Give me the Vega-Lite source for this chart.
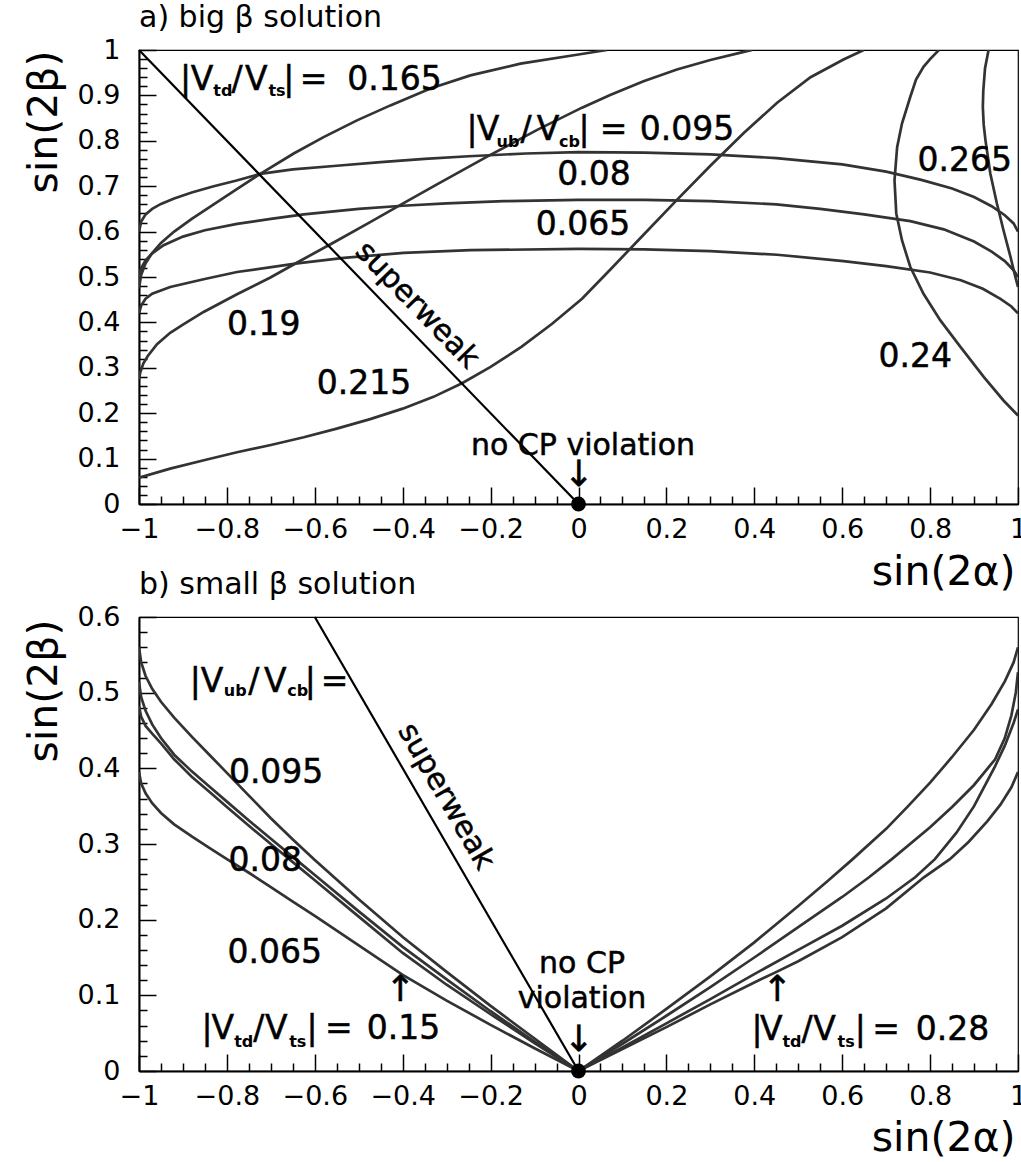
{
  "$schema": "https://vega.github.io/schema/vega-lite/v6.json",
  "padding": {"left": 22, "top": 2, "right": 0, "bottom": 0},
  "bounds": "flush",
  "spacing": 113,
  "config": {
    "view": {"stroke": "#000", "strokeWidth": 1.2},
    "font": "DejaVu Sans",
    "text": {"font": "DejaVu Sans", "color": "#000", "stroke": "#000", "strokeWidth": 0.5},
    "axis": {"grid": false, "domainColor": "#000", "domainWidth": 2, "tickColor": "#000", "tickWidth": 1.5,
      "labelFont": "DejaVu Sans", "labelFontSize": 27, "labelColor": "#000", "titleFont": "DejaVu Sans",
      "titleFontSize": 41, "titleFontWeight": "normal", "titleColor": "#000", "labelFlush": false, "labelOverlap": false},
    "title": {"font": "DejaVu Sans", "fontSize": 30, "fontWeight": "normal", "color": "#000", "anchor": "start", "frame": "group", "offset": 3, "baseline": "alphabetic"}
  },
  "datasets": {
    "a_curves": [
      {"c":"ub095","x":-1,"y":0.600},{"c":"ub095","x":-0.995,"y":0.622},{"c":"ub095","x":-0.985,"y":0.638},{"c":"ub095","x":-0.97,"y":0.650},{"c":"ub095","x":-0.95,"y":0.661},{"c":"ub095","x":-0.92,"y":0.673},{"c":"ub095","x":-0.88,"y":0.686},{"c":"ub095","x":-0.83,"y":0.700},{"c":"ub095","x":-0.78,"y":0.712},{"c":"ub095","x":-0.724,"y":0.727},{"c":"ub095","x":-0.65,"y":0.737},{"c":"ub095","x":-0.55,"y":0.745},{"c":"ub095","x":-0.45,"y":0.753},{"c":"ub095","x":-0.35,"y":0.760},{"c":"ub095","x":-0.25,"y":0.766},{"c":"ub095","x":-0.12,"y":0.772},{"c":"ub095","x":0,"y":0.775},{"c":"ub095","x":0.15,"y":0.774},{"c":"ub095","x":0.3,"y":0.770},{"c":"ub095","x":0.45,"y":0.762},{"c":"ub095","x":0.6,"y":0.748},{"c":"ub095","x":0.7,"y":0.732},{"c":"ub095","x":0.78,"y":0.714},{"c":"ub095","x":0.85,"y":0.695},{"c":"ub095","x":0.9,"y":0.676},{"c":"ub095","x":0.94,"y":0.656},{"c":"ub095","x":0.97,"y":0.636},{"c":"ub095","x":0.99,"y":0.618},{"c":"ub095","x":1,"y":0.600},
      {"c":"ub080","x":-1,"y":0.500},{"c":"ub080","x":-0.995,"y":0.520},{"c":"ub080","x":-0.985,"y":0.537},{"c":"ub080","x":-0.97,"y":0.552},{"c":"ub080","x":-0.944,"y":0.570},{"c":"ub080","x":-0.9,"y":0.589},{"c":"ub080","x":-0.85,"y":0.603},{"c":"ub080","x":-0.777,"y":0.617},{"c":"ub080","x":-0.7,"y":0.628},{"c":"ub080","x":-0.625,"y":0.638},{"c":"ub080","x":-0.5,"y":0.650},{"c":"ub080","x":-0.4,"y":0.657},{"c":"ub080","x":-0.3,"y":0.662},{"c":"ub080","x":-0.17,"y":0.667},{"c":"ub080","x":0,"y":0.670},{"c":"ub080","x":0.15,"y":0.670},{"c":"ub080","x":0.3,"y":0.667},{"c":"ub080","x":0.45,"y":0.660},{"c":"ub080","x":0.55,"y":0.650},{"c":"ub080","x":0.65,"y":0.638},{"c":"ub080","x":0.755,"y":0.623},{"c":"ub080","x":0.831,"y":0.605},{"c":"ub080","x":0.9,"y":0.578},{"c":"ub080","x":0.94,"y":0.556},{"c":"ub080","x":0.97,"y":0.535},{"c":"ub080","x":0.99,"y":0.515},{"c":"ub080","x":1,"y":0.500},
      {"c":"ub065","x":-1,"y":0.420},{"c":"ub065","x":-0.995,"y":0.437},{"c":"ub065","x":-0.985,"y":0.452},{"c":"ub065","x":-0.97,"y":0.463},{"c":"ub065","x":-0.929,"y":0.478},{"c":"ub065","x":-0.853,"y":0.495},{"c":"ub065","x":-0.777,"y":0.511},{"c":"ub065","x":-0.64,"y":0.530},{"c":"ub065","x":-0.534,"y":0.542},{"c":"ub065","x":-0.398,"y":0.553},{"c":"ub065","x":-0.246,"y":0.559},{"c":"ub065","x":0,"y":0.562},{"c":"ub065","x":0.15,"y":0.561},{"c":"ub065","x":0.3,"y":0.557},{"c":"ub065","x":0.452,"y":0.549},{"c":"ub065","x":0.603,"y":0.535},{"c":"ub065","x":0.7,"y":0.524},{"c":"ub065","x":0.8,"y":0.510},{"c":"ub065","x":0.87,"y":0.493},{"c":"ub065","x":0.92,"y":0.474},{"c":"ub065","x":0.96,"y":0.452},{"c":"ub065","x":0.985,"y":0.435},{"c":"ub065","x":1,"y":0.420},
      {"c":"td165","x":-1,"y":0.475},{"c":"td165","x":-0.995,"y":0.505},{"c":"td165","x":-0.985,"y":0.530},{"c":"td165","x":-0.97,"y":0.553},{"c":"td165","x":-0.95,"y":0.575},{"c":"td165","x":-0.92,"y":0.600},{"c":"td165","x":-0.88,"y":0.628},{"c":"td165","x":-0.83,"y":0.660},{"c":"td165","x":-0.78,"y":0.692},{"c":"td165","x":-0.724,"y":0.727},{"c":"td165","x":-0.648,"y":0.772},{"c":"td165","x":-0.58,"y":0.808},{"c":"td165","x":-0.504,"y":0.845},{"c":"td165","x":-0.428,"y":0.878},{"c":"td165","x":-0.337,"y":0.915},{"c":"td165","x":-0.246,"y":0.944},{"c":"td165","x":-0.132,"y":0.970},{"c":"td165","x":0,"y":0.990},{"c":"td165","x":0.065,"y":1.0},
      {"c":"td190","x":-1,"y":0.275},{"c":"td190","x":-0.997,"y":0.290},{"c":"td190","x":-0.99,"y":0.310},{"c":"td190","x":-0.98,"y":0.326},{"c":"td190","x":-0.959,"y":0.352},{"c":"td190","x":-0.929,"y":0.377},{"c":"td190","x":-0.9,"y":0.395},{"c":"td190","x":-0.853,"y":0.423},{"c":"td190","x":-0.777,"y":0.462},{"c":"td190","x":-0.701,"y":0.499},{"c":"td190","x":-0.64,"y":0.532},{"c":"td190","x":-0.557,"y":0.576},{"c":"td190","x":-0.474,"y":0.621},{"c":"td190","x":-0.405,"y":0.659},{"c":"td190","x":-0.322,"y":0.704},{"c":"td190","x":-0.208,"y":0.765},{"c":"td190","x":-0.094,"y":0.824},{"c":"td190","x":0.008,"y":0.873},{"c":"td190","x":0.072,"y":0.901},{"c":"td190","x":0.148,"y":0.931},{"c":"td190","x":0.224,"y":0.957},{"c":"td190","x":0.3,"y":0.978},{"c":"td190","x":0.376,"y":0.996},{"c":"td190","x":0.395,"y":1.0},
      {"c":"td215","x":-1,"y":0.058},{"c":"td215","x":-0.929,"y":0.078},{"c":"td215","x":-0.85,"y":0.097},{"c":"td215","x":-0.777,"y":0.114},{"c":"td215","x":-0.7,"y":0.130},{"c":"td215","x":-0.625,"y":0.147},{"c":"td215","x":-0.55,"y":0.166},{"c":"td215","x":-0.474,"y":0.187},{"c":"td215","x":-0.4,"y":0.210},{"c":"td215","x":-0.33,"y":0.236},{"c":"td215","x":-0.265,"y":0.266},{"c":"td215","x":-0.2,"y":0.302},{"c":"td215","x":-0.13,"y":0.346},{"c":"td215","x":-0.06,"y":0.397},{"c":"td215","x":0.008,"y":0.452},{"c":"td215","x":0.072,"y":0.516},{"c":"td215","x":0.148,"y":0.593},{"c":"td215","x":0.224,"y":0.670},{"c":"td215","x":0.3,"y":0.745},{"c":"td215","x":0.376,"y":0.817},{"c":"td215","x":0.452,"y":0.884},{"c":"td215","x":0.528,"y":0.940},{"c":"td215","x":0.603,"y":0.979},{"c":"td215","x":0.649,"y":1.0},
      {"c":"td240","x":0.820,"y":1.0},{"c":"td240","x":0.800,"y":0.980},{"c":"td240","x":0.785,"y":0.963},{"c":"td240","x":0.768,"y":0.935},{"c":"td240","x":0.755,"y":0.897},{"c":"td240","x":0.736,"y":0.838},{"c":"td240","x":0.725,"y":0.786},{"c":"td240","x":0.719,"y":0.713},{"c":"td240","x":0.723,"y":0.640},{"c":"td240","x":0.736,"y":0.581},{"c":"td240","x":0.755,"y":0.522},{"c":"td240","x":0.785,"y":0.463},{"c":"td240","x":0.823,"y":0.405},{"c":"td240","x":0.869,"y":0.346},{"c":"td240","x":0.922,"y":0.280},{"c":"td240","x":0.967,"y":0.228},{"c":"td240","x":1.0,"y":0.195},
      {"c":"td265","x":0.933,"y":1.0},{"c":"td265","x":0.925,"y":0.960},{"c":"td265","x":0.921,"y":0.910},{"c":"td265","x":0.920,"y":0.874},{"c":"td265","x":0.922,"y":0.835},{"c":"td265","x":0.926,"y":0.801},{"c":"td265","x":0.937,"y":0.728},{"c":"td265","x":0.952,"y":0.662},{"c":"td265","x":0.967,"y":0.603},{"c":"td265","x":0.983,"y":0.544},{"c":"td265","x":0.994,"y":0.500},{"c":"td265","x":1.0,"y":0.478}
    ],
    "b_curves": [
      {"c":"L1","x":-1,"y":0.560},{"c":"L1","x":-0.995,"y":0.540},{"c":"L1","x":-0.985,"y":0.522},{"c":"L1","x":-0.97,"y":0.505},{"c":"L1","x":-0.95,"y":0.488},{"c":"L1","x":-0.92,"y":0.467},{"c":"L1","x":-0.88,"y":0.442},{"c":"L1","x":-0.84,"y":0.418},{"c":"L1","x":-0.8,"y":0.394},{"c":"L1","x":-0.75,"y":0.364},{"c":"L1","x":-0.7,"y":0.334},{"c":"L1","x":-0.65,"y":0.306},{"c":"L1","x":-0.6,"y":0.279},{"c":"L1","x":-0.5,"y":0.227},{"c":"L1","x":-0.4,"y":0.177},{"c":"L1","x":-0.3,"y":0.131},{"c":"L1","x":-0.2,"y":0.086},{"c":"L1","x":-0.1,"y":0.043},{"c":"L1","x":0,"y":0},
      {"c":"L2","x":-1,"y":0.514},{"c":"L2","x":-0.995,"y":0.494},{"c":"L2","x":-0.985,"y":0.476},{"c":"L2","x":-0.97,"y":0.458},{"c":"L2","x":-0.95,"y":0.440},{"c":"L2","x":-0.92,"y":0.418},{"c":"L2","x":-0.88,"y":0.396},{"c":"L2","x":-0.84,"y":0.376},{"c":"L2","x":-0.8,"y":0.356},{"c":"L2","x":-0.75,"y":0.331},{"c":"L2","x":-0.7,"y":0.307},{"c":"L2","x":-0.65,"y":0.283},{"c":"L2","x":-0.6,"y":0.259},{"c":"L2","x":-0.5,"y":0.211},{"c":"L2","x":-0.4,"y":0.164},{"c":"L2","x":-0.3,"y":0.121},{"c":"L2","x":-0.2,"y":0.079},{"c":"L2","x":-0.1,"y":0.039},{"c":"L2","x":0,"y":0},
      {"c":"L3","x":-1,"y":0.482},{"c":"L3","x":-0.995,"y":0.468},{"c":"L3","x":-0.985,"y":0.456},{"c":"L3","x":-0.97,"y":0.446},{"c":"L3","x":-0.95,"y":0.433},{"c":"L3","x":-0.92,"y":0.412},{"c":"L3","x":-0.88,"y":0.389},{"c":"L3","x":-0.84,"y":0.369},{"c":"L3","x":-0.8,"y":0.349},{"c":"L3","x":-0.75,"y":0.324},{"c":"L3","x":-0.7,"y":0.300},{"c":"L3","x":-0.65,"y":0.276},{"c":"L3","x":-0.6,"y":0.252},{"c":"L3","x":-0.5,"y":0.204},{"c":"L3","x":-0.4,"y":0.156},{"c":"L3","x":-0.3,"y":0.114},{"c":"L3","x":-0.2,"y":0.075},{"c":"L3","x":-0.1,"y":0.037},{"c":"L3","x":0,"y":0},
      {"c":"L4","x":-1,"y":0.395},{"c":"L4","x":-0.995,"y":0.380},{"c":"L4","x":-0.985,"y":0.367},{"c":"L4","x":-0.97,"y":0.354},{"c":"L4","x":-0.95,"y":0.341},{"c":"L4","x":-0.92,"y":0.326},{"c":"L4","x":-0.88,"y":0.310},{"c":"L4","x":-0.84,"y":0.295},{"c":"L4","x":-0.8,"y":0.280},{"c":"L4","x":-0.75,"y":0.262},{"c":"L4","x":-0.7,"y":0.243},{"c":"L4","x":-0.65,"y":0.224},{"c":"L4","x":-0.6,"y":0.205},{"c":"L4","x":-0.5,"y":0.166},{"c":"L4","x":-0.4,"y":0.127},{"c":"L4","x":-0.3,"y":0.093},{"c":"L4","x":-0.2,"y":0.061},{"c":"L4","x":-0.1,"y":0.030},{"c":"L4","x":0,"y":0},
      {"c":"R1","x":0,"y":0},{"c":"R1","x":0.1,"y":0.040},{"c":"R1","x":0.2,"y":0.082},{"c":"R1","x":0.3,"y":0.125},{"c":"R1","x":0.4,"y":0.170},{"c":"R1","x":0.5,"y":0.218},{"c":"R1","x":0.565,"y":0.250},{"c":"R1","x":0.622,"y":0.279},{"c":"R1","x":0.7,"y":0.320},{"c":"R1","x":0.75,"y":0.350},{"c":"R1","x":0.8,"y":0.381},{"c":"R1","x":0.85,"y":0.415},{"c":"R1","x":0.9,"y":0.451},{"c":"R1","x":0.94,"y":0.485},{"c":"R1","x":0.97,"y":0.515},{"c":"R1","x":0.99,"y":0.540},{"c":"R1","x":1,"y":0.560},
      {"c":"R2","x":0,"y":0},{"c":"R2","x":0.1,"y":0.036},{"c":"R2","x":0.2,"y":0.073},{"c":"R2","x":0.3,"y":0.111},{"c":"R2","x":0.4,"y":0.150},{"c":"R2","x":0.5,"y":0.190},{"c":"R2","x":0.6,"y":0.230},{"c":"R2","x":0.661,"y":0.256},{"c":"R2","x":0.713,"y":0.280},{"c":"R2","x":0.8,"y":0.322},{"c":"R2","x":0.85,"y":0.349},{"c":"R2","x":0.9,"y":0.378},{"c":"R2","x":0.948,"y":0.412},{"c":"R2","x":0.97,"y":0.440},{"c":"R2","x":0.985,"y":0.470},{"c":"R2","x":0.995,"y":0.500},{"c":"R2","x":1,"y":0.527},
      {"c":"R3","x":0,"y":0},{"c":"R3","x":0.1,"y":0.031},{"c":"R3","x":0.2,"y":0.063},{"c":"R3","x":0.3,"y":0.095},{"c":"R3","x":0.4,"y":0.128},{"c":"R3","x":0.5,"y":0.160},{"c":"R3","x":0.6,"y":0.192},{"c":"R3","x":0.7,"y":0.228},{"c":"R3","x":0.766,"y":0.256},{"c":"R3","x":0.811,"y":0.280},{"c":"R3","x":0.86,"y":0.315},{"c":"R3","x":0.9,"y":0.350},{"c":"R3","x":0.948,"y":0.403},{"c":"R3","x":0.97,"y":0.430},{"c":"R3","x":0.99,"y":0.460},{"c":"R3","x":1,"y":0.478},
      {"c":"R4","x":0,"y":0},{"c":"R4","x":0.1,"y":0.029},{"c":"R4","x":0.2,"y":0.058},{"c":"R4","x":0.3,"y":0.088},{"c":"R4","x":0.4,"y":0.117},{"c":"R4","x":0.447,"y":0.130},{"c":"R4","x":0.5,"y":0.145},{"c":"R4","x":0.6,"y":0.177},{"c":"R4","x":0.7,"y":0.215},{"c":"R4","x":0.786,"y":0.256},{"c":"R4","x":0.845,"y":0.280},{"c":"R4","x":0.888,"y":0.303},{"c":"R4","x":0.93,"y":0.330},{"c":"R4","x":0.96,"y":0.352},{"c":"R4","x":0.985,"y":0.375},{"c":"R4","x":1,"y":0.395}
    ],
    "a_sw": [{"x":-1,"y":1},{"x":0,"y":0}],
    "b_sw": [{"x":-0.6,"y":0.6},{"x":0,"y":0}],
    "origin": [{"x":0,"y":0}],
    "a_num": [{"x":0.035,"y":0.725,"t":"0.08"},{"x":0.010,"y":0.615,"t":"0.065"},{"x":0.879,"y":0.755,"t":"0.265"},{"x":-0.716,"y":0.394,"t":"0.19"},{"x":-0.488,"y":0.264,"t":"0.215"},{"x":0.766,"y":0.324,"t":"0.24"},{"x":-0.4187,"y":0.934,"t":"0.165"},{"x":0.2469,"y":0.824,"t":"0.095"}],
    "a_main": [{"x":-0.8942,"y":0.934,"t":"|"},{"x":-0.8567,"y":0.934,"t":"V"},{"x":-0.777,"y":0.934,"t":"/"},{"x":-0.7333,"y":0.934,"t":"V"},{"x":-0.6594,"y":0.934,"t":"|"},{"x":-0.6025,"y":0.934,"t":"="},
               {"x":-0.2423,"y":0.824,"t":"|"},{"x":-0.2059,"y":0.824,"t":"V"},{"x":-0.1195,"y":0.824,"t":"/"},{"x":-0.0694,"y":0.824,"t":"V"},{"x":0.0125,"y":0.824,"t":"|"},{"x":0.0796,"y":0.824,"t":"="}],
    "a_sub": [{"x":-0.8093,"y":0.910,"t":"td"},{"x":-0.686,"y":0.910,"t":"ts"},{"x":-0.1604,"y":0.797,"t":"ub"},{"x":-0.0205,"y":0.797,"t":"cb"}],
    "a_note": [{"x":0.0102,"y":0.128,"t":"no CP violation"}],
    "a_arrow": [{"x":0,"y":0.064,"t":"↓"}],
    "a_swl": [{"x":-0.367,"y":0.438,"t":"superweak"}],
    "b_num": [{"x":-0.688,"y":0.394,"t":"0.095"},{"x":-0.713,"y":0.277,"t":"0.08"},{"x":-0.691,"y":0.156,"t":"0.065"},{"x":-0.3982,"y":0.0555,"t":"0.15"},{"x":0.851,"y":0.054,"t":"0.28"}],
    "b_main": [{"x":-0.8719,"y":0.514,"t":"|"},{"x":-0.8339,"y":0.514,"t":"V"},{"x":-0.739,"y":0.514,"t":"/"},{"x":-0.6899,"y":0.514,"t":"V"},{"x":-0.6102,"y":0.514,"t":"|"},{"x":-0.5552,"y":0.514,"t":"="},
               {"x":-0.8453,"y":0.0555,"t":"|"},{"x":-0.8093,"y":0.0555,"t":"V"},{"x":-0.7276,"y":0.0555,"t":"/"},{"x":-0.6878,"y":0.0555,"t":"V"},{"x":-0.6064,"y":0.0555,"t":"|"},{"x":-0.5456,"y":0.0555,"t":"="},
               {"x":0.4061,"y":0.054,"t":"|"},{"x":0.4384,"y":0.054,"t":"V"},{"x":0.5199,"y":0.054,"t":"/"},{"x":0.5597,"y":0.054,"t":"V"},{"x":0.6412,"y":0.054,"t":"|"},{"x":0.7001,"y":0.054,"t":"="}],
    "b_sub": [{"x":-0.7809,"y":0.502,"t":"ub"},{"x":-0.6387,"y":0.502,"t":"cb"},{"x":-0.7618,"y":0.038,"t":"td"},{"x":-0.6387,"y":0.038,"t":"ts"},{"x":0.4858,"y":0.038,"t":"td"},{"x":0.6091,"y":0.038,"t":"ts"}],
    "b_note": [{"x":0.008,"y":0.141,"t":"no CP"},{"x":0.008,"y":0.095,"t":"violation"}],
    "b_arrow": [{"x":0,"y":0.041,"t":"↓"},{"x":-0.406,"y":0.107,"t":"↑"},{"x":0.452,"y":0.107,"t":"↑"}],
    "b_swl": [{"x":-0.3015,"y":0.363,"t":"superweak"}]
  },
  "vconcat": [
    {
      "width": 879, "height": 454,
      "title": {"text": "a) big β solution"},
      "encoding": {
        "x": {"field": "x", "type": "quantitative", "scale": {"domain": [-1, 1], "nice": false, "zero": false},
          "axis": {"values": [-1,-0.95,-0.9,-0.85,-0.8,-0.75,-0.7,-0.65,-0.6,-0.55,-0.5,-0.45,-0.4,-0.35,-0.3,-0.25,-0.2,-0.15,-0.1,-0.05,0,0.05,0.1,0.15,0.2,0.25,0.3,0.35,0.4,0.45,0.5,0.55,0.6,0.65,0.7,0.75,0.8,0.85,0.9,0.95,1],
            "format": "~g", "labelExpr": "abs(datum.value*5 - round(datum.value*5)) < 0.001 ? datum.label : ''",
            "tickSize": {"condition": {"test": "abs(datum.value*5 - round(datum.value*5)) < 0.001", "value": -17}, "value": -8},
            "labelPadding": 29, "labelBaseline": "top",
            "title": "sin(2α)", "titleX": 876, "titleY": 68, "titleAlign": "right", "titleBaseline": "middle"}},
        "y": {"field": "y", "type": "quantitative", "scale": {"domain": [0, 1], "nice": false, "zero": false},
          "axis": {"values": [0,0.02,0.04,0.06,0.08,0.1,0.12,0.14,0.16,0.18,0.2,0.22,0.24,0.26,0.28,0.3,0.32,0.34,0.36,0.38,0.4,0.42,0.44,0.46,0.48,0.5,0.52,0.54,0.56,0.58,0.6,0.62,0.64,0.66,0.68,0.7,0.72,0.74,0.76,0.78,0.8,0.82,0.84,0.86,0.88,0.9,0.92,0.94,0.96,0.98,1],
            "format": "~g", "labelExpr": "abs(datum.value*10 - round(datum.value*10)) < 0.001 ? datum.label : ''",
            "tickSize": {"condition": {"test": "abs(datum.value*10 - round(datum.value*10)) < 0.001", "value": -17}, "value": -8},
            "labelPadding": 36,
            "title": "sin(2β)", "titleX": -95, "titleY": 0, "titleAngle": -90, "titleAlign": "right", "titleBaseline": "middle"}}
      },
      "layer": [
        {"data": {"name": "a_curves"}, "mark": {"type": "line", "stroke": "#333333", "strokeWidth": 2.7, "clip": true},
         "encoding": {"detail": {"field": "c"}, "order": {"value": null}}},
        {"data": {"name": "a_sw"}, "mark": {"type": "line", "stroke": "#000", "strokeWidth": 2.2}, "encoding": {}},
        {"data": {"name": "origin"}, "mark": {"type": "point", "filled": true, "color": "#000", "size": 220, "opacity": 1}},
        {"data": {"name": "a_num"}, "mark": {"type": "text", "fontSize": 33, "align": "center", "baseline": "middle"}, "encoding": {"text": {"field": "t"}}},
        {"data": {"name": "a_main"}, "mark": {"type": "text", "fontSize": 33, "align": "center", "baseline": "middle"}, "encoding": {"text": {"field": "t"}}},
        {"data": {"name": "a_sub"}, "mark": {"type": "text", "fontSize": 16, "fontWeight": "bold", "strokeWidth": 0, "align": "center", "baseline": "middle"}, "encoding": {"text": {"field": "t"}}},
        {"data": {"name": "a_note"}, "mark": {"type": "text", "fontSize": 30, "align": "center", "baseline": "middle"}, "encoding": {"text": {"field": "t"}}},
        {"data": {"name": "a_arrow"}, "mark": {"type": "text", "fontSize": 36, "align": "center", "baseline": "middle"}, "encoding": {"text": {"field": "t"}}},
        {"data": {"name": "a_swl"}, "mark": {"type": "text", "fontSize": 30, "angle": 46, "align": "center", "baseline": "middle"}, "encoding": {"text": {"field": "t"}}}
      ]
    },
    {
      "width": 879, "height": 454,
      "title": {"text": "b) small β solution"},
      "encoding": {
        "x": {"field": "x", "type": "quantitative", "scale": {"domain": [-1, 1], "nice": false, "zero": false},
          "axis": {"values": [-1,-0.95,-0.9,-0.85,-0.8,-0.75,-0.7,-0.65,-0.6,-0.55,-0.5,-0.45,-0.4,-0.35,-0.3,-0.25,-0.2,-0.15,-0.1,-0.05,0,0.05,0.1,0.15,0.2,0.25,0.3,0.35,0.4,0.45,0.5,0.55,0.6,0.65,0.7,0.75,0.8,0.85,0.9,0.95,1],
            "format": "~g", "labelExpr": "abs(datum.value*5 - round(datum.value*5)) < 0.001 ? datum.label : ''",
            "tickSize": {"condition": {"test": "abs(datum.value*5 - round(datum.value*5)) < 0.001", "value": -17}, "value": -8},
            "labelPadding": 29, "labelBaseline": "top",
            "title": "sin(2α)", "titleX": 876, "titleY": 67, "titleAlign": "right", "titleBaseline": "middle"}},
        "y": {"field": "y", "type": "quantitative", "scale": {"domain": [0, 0.6], "nice": false, "zero": false},
          "axis": {"values": [0,0.02,0.04,0.06,0.08,0.1,0.12,0.14,0.16,0.18,0.2,0.22,0.24,0.26,0.28,0.3,0.32,0.34,0.36,0.38,0.4,0.42,0.44,0.46,0.48,0.5,0.52,0.54,0.56,0.58,0.6],
            "format": "~g", "labelExpr": "abs(datum.value*10 - round(datum.value*10)) < 0.001 ? datum.label : ''",
            "tickSize": {"condition": {"test": "abs(datum.value*10 - round(datum.value*10)) < 0.001", "value": -17}, "value": -8},
            "labelPadding": 36,
            "title": "sin(2β)", "titleX": -95, "titleY": 2, "titleAngle": -90, "titleAlign": "right", "titleBaseline": "middle"}}
      },
      "layer": [
        {"data": {"name": "b_curves"}, "mark": {"type": "line", "stroke": "#333333", "strokeWidth": 2.7, "clip": true},
         "encoding": {"detail": {"field": "c"}, "order": {"value": null}}},
        {"data": {"name": "b_sw"}, "mark": {"type": "line", "stroke": "#000", "strokeWidth": 2.2}, "encoding": {}},
        {"data": {"name": "origin"}, "mark": {"type": "point", "filled": true, "color": "#000", "size": 220, "opacity": 1}},
        {"data": {"name": "b_num"}, "mark": {"type": "text", "fontSize": 33, "align": "center", "baseline": "middle"}, "encoding": {"text": {"field": "t"}}},
        {"data": {"name": "b_main"}, "mark": {"type": "text", "fontSize": 33, "align": "center", "baseline": "middle"}, "encoding": {"text": {"field": "t"}}},
        {"data": {"name": "b_sub"}, "mark": {"type": "text", "fontSize": 16, "fontWeight": "bold", "strokeWidth": 0, "align": "center", "baseline": "middle"}, "encoding": {"text": {"field": "t"}}},
        {"data": {"name": "b_note"}, "mark": {"type": "text", "fontSize": 30, "align": "center", "baseline": "middle"}, "encoding": {"text": {"field": "t"}}},
        {"data": {"name": "b_arrow"}, "mark": {"type": "text", "fontSize": 36, "align": "center", "baseline": "middle"}, "encoding": {"text": {"field": "t"}}},
        {"data": {"name": "b_swl"}, "mark": {"type": "text", "fontSize": 30, "angle": 60, "align": "center", "baseline": "middle"}, "encoding": {"text": {"field": "t"}}}
      ]
    }
  ]
}
